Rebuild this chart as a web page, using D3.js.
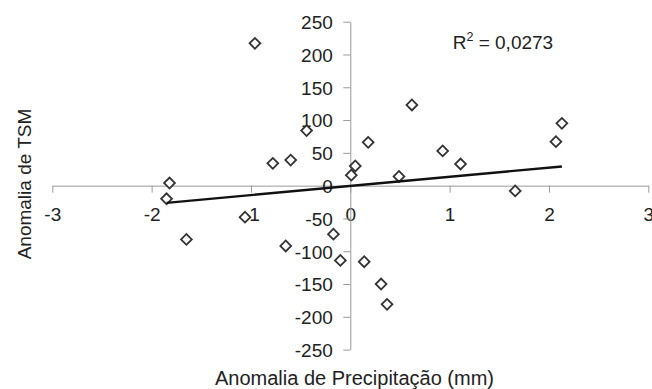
<!DOCTYPE html>
<html>
<head>
<meta charset="utf-8">
<script src="https://cdn.jsdelivr.net/npm/d3@7"></script>
<style>
  html, body { margin: 0; padding: 0; background: #fff; }
  svg { display: block; }
  text { font-family: "Liberation Sans", Arial, sans-serif; }
</style>
</head>
<body>
<svg id="chart" width="652" height="389"></svg>
<script>
// ---- data ----
const xTicks = [-3, -2, -1, 0, 1, 2, 3];
const yTicks = [-250, -200, -150, -100, -50, 0, 50, 100, 150, 200, 250];
const precip = [-1.82, -1.85, -1.65, -1.06, -0.96, -0.78, -0.60, -0.44, -0.65, -0.17, -0.10,
                0.01, 0.05, 0.18, 0.14, 0.31, 0.37, 0.49, 0.62, 0.93, 1.11, 1.66, 2.07, 2.13];
const tsm    = [4, -20, -82, -48, 217, 34, 39, 84, -92, -74, -114,
                16, 30, 66, -116, -150, -181, 14, 123, 53, 33, -8, 67, 95];
const r2Text = "0,0273";
const xTitle = "Anomalia de Precipitação (mm)";
const yTitle = "Anomalia de TSM";

// ---- layout ----
const svg = d3.select("#chart");
const x = d3.scaleLinear().domain([-3, 3]).range([52.3, 648.3]);
const y = d3.scaleLinear().domain([-250, 250]).range([349.6, 21.7]);

const axisColor = "#9a9a9a";
const textColor = "#222";
const ff = "Liberation Sans, Arial, sans-serif";

// x axis
const gx = svg.append("g").attr("transform", `translate(0,${y(0)})`)
  .call(d3.axisBottom(x).tickValues(xTicks).tickSize(7).tickSizeOuter(0).tickPadding(15)
        .tickFormat(d => String(d)));
gx.select(".domain").attr("stroke", axisColor);
gx.selectAll(".tick line").attr("stroke", axisColor);
gx.selectAll(".tick text").attr("fill", textColor).attr("font-size", 19).attr("font-family", ff);

// y axis
const gy = svg.append("g").attr("transform", `translate(${x(0)},0)`)
  .call(d3.axisLeft(y).tickValues(yTicks).tickSize(7).tickSizeOuter(0).tickPadding(10.5)
        .tickFormat(d => String(d)));
gy.select(".domain").attr("stroke", axisColor);
gy.selectAll(".tick line").attr("stroke", axisColor);
gy.selectAll(".tick text").attr("fill", textColor).attr("font-size", 19).attr("font-family", ff)
  .attr("dy", "0.36em");

// axis titles
svg.append("text")
  .attr("transform", "translate(354.5,384.5)")
  .attr("text-anchor", "middle").attr("font-size", 20).attr("fill", textColor)
  .text(xTitle);
svg.append("text")
  .attr("transform", "translate(30.5,184) rotate(-90)")
  .attr("text-anchor", "middle").attr("font-size", 19).attr("fill", textColor)
  .text(yTitle);

// points
const pts = precip.map((p, i) => ({ p, t: tsm[i] }));
const sym = d3.symbol().type(d3.symbolSquare).size(58);
svg.append("g").selectAll("path").data(pts).join("path")
  .attr("d", sym)
  .attr("transform", d => `translate(${x(d.p)},${y(d.t)}) rotate(45)`)
  .attr("fill", "#fff").attr("stroke", "#333").attr("stroke-width", 1.8);

// linear trend (least squares)
const mx = d3.mean(precip), my = d3.mean(tsm);
const sxy = d3.sum(pts, d => (d.p - mx) * (d.t - my));
const sxx = d3.sum(pts, d => (d.p - mx) ** 2);
const slope = sxy / sxx, icpt = my - slope * mx;
const [x0, x1] = d3.extent(precip);
svg.append("path")
  .attr("d", d3.line()([[x(x0), y(icpt + slope * x0)], [x(x1), y(icpt + slope * x1)]]))
  .attr("stroke", "#111").attr("stroke-width", 2.3).attr("fill", "none");

// R² label
const r2 = svg.append("text")
  .attr("transform", "translate(452.7,49)")
  .attr("font-size", 19).attr("fill", textColor);
r2.append("tspan").text("R");
r2.append("tspan").attr("font-size", 12.5).attr("dy", -8.5).text("2");
r2.append("tspan").attr("dy", 8.5).text(" = " + r2Text);
</script>
</body>
</html>
